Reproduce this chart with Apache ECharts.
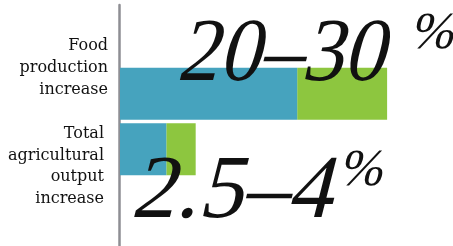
<!DOCTYPE html>
<html>
<head>
<meta charset="utf-8">
<script src="https://cdn.jsdelivr.net/npm/echarts@6/dist/echarts.min.js"></script>
<style>
  html, body { margin: 0; padding: 0; background: #fff; }
  #chart { width: 453px; height: 246px; }
</style>
</head>
<body>
<div id="chart"></div>
<script>
// data
const categories = ['Food\nproduction\nincrease', 'Total\nagricultural\noutput\nincrease'];
const lowValues = [19.9, 5.2];
const extraValues = [10.1, 3.3];
const rangeLabels = ['20–30', '2.5–4'];

// big range numbers: offset from the bar's axis point, and horizontal squeeze
const numberLayout = [[56, -82, 0.92], [10, -1, 0.99]];
const percentLayout = [[289, -85], [218, -4]];
const SLANT = -0.25; // no italic face installed, so lean the glyphs by hand

const chart = echarts.init(document.getElementById('chart'));

// category labels sit off the bar centre: first one above, second one below
function catLabel(value, index) {
  const lines = value.split('\n').map(l => '{' + (index === 0 ? 'a' : 'b') + '|' + l + '}');
  if (index === 0) return lines.join('\n') + '\n{s1| }';
  return '{s2| }\n' + lines.join('\n');
}

function renderRange(params, api) {
  const i = params.dataIndex;
  const p = api.coord([0, i]);
  const nl = numberLayout[i];
  const pl = percentLayout[i];
  return {
    type: 'group',
    children: [
      {
        type: 'text',
        x: p[0] + nl[0],
        y: p[1] + nl[1],
        originX: 0,
        originY: 70,
        scaleX: nl[2],
        skewX: SLANT,
        style: {
          text: rangeLabels[i],
          fontFamily: 'Liberation Serif',
          fontSize: 90,
          lineHeight: 90,
          fill: '#111',
          align: 'left',
          verticalAlign: 'top'
        }
      },
      {
        type: 'text',
        x: p[0] + pl[0],
        y: p[1] + pl[1],
        originX: 0,
        originY: 40,
        skewX: SLANT,
        style: {
          text: '%',
          fontFamily: 'Liberation Serif',
          fontSize: 52,
          lineHeight: 52,
          fill: '#111',
          align: 'left',
          verticalAlign: 'top'
        }
      }
    ]
  };
}

chart.setOption({
  animation: false,
  grid: [
    { left: 120, right: 0, top: 66, height: 111 },
    { left: 118.8, width: 1, top: 5, bottom: 0 }
  ],
  xAxis: [
    { type: 'value', min: 0, max: 37.4, show: false },
    { type: 'value', gridIndex: 1, show: false }
  ],
  yAxis: [
    {
      type: 'category',
      inverse: true,
      data: categories,
      axisLine: { show: false },
      axisTick: { show: false },
      axisLabel: {
        interval: 0,
        hideOverlap: false,
        margin: 12,
        align: 'right',
        formatter: catLabel,
        rich: {
          a: { fontFamily: 'DejaVu Serif', fontSize: 16, lineHeight: 21.8, color: '#111', align: 'right' },
          b: { fontFamily: 'DejaVu Serif', fontSize: 16, lineHeight: 21.5, color: '#111', align: 'right', padding: [0, 4, 0, 0] },
          s1: { fontSize: 1, lineHeight: 52 },
          s2: { fontSize: 1, lineHeight: 34.5 }
        }
      }
    },
    {
      type: 'value',
      gridIndex: 1,
      axisLine: { show: true, lineStyle: { color: '#8e8e93', width: 2.5 } },
      axisTick: { show: false },
      axisLabel: { show: false },
      splitLine: { show: false }
    }
  ],
  series: [
    {
      type: 'bar',
      stack: 'range',
      barWidth: 52,
      itemStyle: { color: '#46a3be' },
      data: lowValues,
      z: 2
    },
    {
      type: 'bar',
      stack: 'range',
      barWidth: 52,
      itemStyle: { color: '#8dc63f' },
      data: extraValues,
      z: 1
    },
    {
      type: 'custom',
      renderItem: renderRange,
      encode: { x: 0, y: 1 },
      data: categories.map((c, i) => [0, i]),
      silent: true,
      z: 5
    }
  ]
});
</script>
</body>
</html>
